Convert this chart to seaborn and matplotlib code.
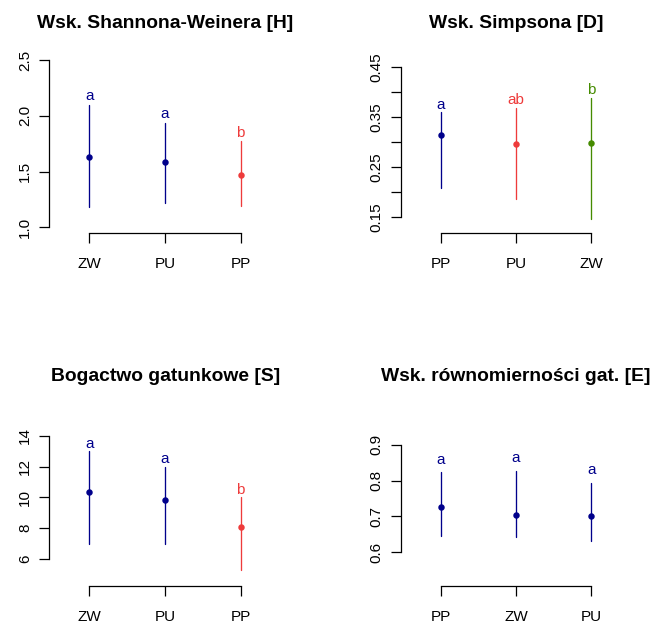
import numpy as np
import pandas as pd
import matplotlib
matplotlib.use("Agg")
import matplotlib.pyplot as plt
import seaborn as sns

# ---------------- data ----------------
H_groups = ["ZW", "PU", "PP"]
H_mid = [1.63, 1.585, 1.465]
H_low = [1.185, 1.22, 1.195]
H_high = [2.10, 1.935, 1.77]
H_letters = ["a", "a", "b"]
H_colors = ["#00008B", "#00008B", "#EE3B3B"]

D_groups = ["PP", "PU", "ZW"]
D_mid = [0.313, 0.295, 0.298]
D_low = [0.207, 0.185, 0.146]
D_high = [0.360, 0.368, 0.388]
D_letters = ["a", "ab", "b"]
D_colors = ["#00008B", "#EE3B3B", "#458B00"]

S_groups = ["ZW", "PU", "PP"]
S_mid = [10.37, 9.80, 8.10]
S_low = [7.0, 7.0, 5.26]
S_high = [13.0, 12.0, 10.0]
S_letters = ["a", "a", "b"]
S_colors = ["#00008B", "#00008B", "#EE3B3B"]

E_groups = ["PP", "ZW", "PU"]
E_mid = [0.725, 0.704, 0.701]
E_low = [0.646, 0.642, 0.632]
E_high = [0.823, 0.827, 0.793]
E_letters = ["a", "a", "a"]
E_colors = ["#00008B", "#00008B", "#00008B"]

H_title = "Wsk. Shannona-Weinera [H]"
D_title = "Wsk. Simpsona [D]"
S_title = "Bogactwo gatunkowe [S]"
E_title = "Wsk. równomierności gat. [E]"

H_ticks = [1.0, 1.5, 2.0, 2.5]
H_ticklabels = ["1.0", "1.5", "2.0", "2.5"]
D_ticks = [0.15, 0.20, 0.25, 0.30, 0.35, 0.40, 0.45]
D_ticklabels = ["0.15", "", "0.25", "", "0.35", "", "0.45"]
S_ticks = [6, 8, 10, 12, 14]
S_ticklabels = ["6", "8", "10", "12", "14"]
E_ticks = [0.6, 0.7, 0.8, 0.9]
E_ticklabels = ["0.6", "0.7", "0.8", "0.9"]

# ---------------- style ----------------
sns.set_style("ticks")
plt.rcParams["font.family"] = ["Liberation Sans", "DejaVu Sans"]

W, Hh = 654, 626
fig = plt.figure(figsize=(W / 100, Hh / 100), dpi=100)
fig.patch.set_facecolor("white")


def px_axes(left, top, right, bottom):
    return fig.add_axes([left / W, 1 - bottom / Hh, (right - left) / W, (bottom - top) / Hh])


def panel(box, ylim, groups, mid, low, high, letters, colors, ticks, ticklabels,
          title, title_xy, letter_off):
    ax = px_axes(*box)
    df = pd.DataFrame({
        "group": np.repeat(groups, 3),
        "value": np.column_stack([low, mid, high]).ravel(),
    })
    pal = dict(zip(groups, colors))
    sns.pointplot(data=df, x="group", y="value", hue="group", order=groups,
                  hue_order=groups, palette=pal, estimator="median",
                  errorbar=("pi", 100), linestyle="none", markers="o",
                  markersize=2.6, err_kws={"linewidth": 0.95}, legend=False,
                  ax=ax)
    for i, (g, hi, lt, c) in enumerate(zip(groups, high, letters, colors)):
        ax.annotate(lt, xy=(i, hi), xytext=(0, letter_off * 0.72),
                    textcoords="offset points", ha="center", va="center",
                    color=c, fontsize=11)
    ax.set_xlim(-0.53, len(groups) - 1 + 0.53)
    ax.set_ylim(*ylim)
    ax.set_yticks(ticks)
    ax.set_yticklabels(ticklabels, rotation=90, va="center")
    ax.set_xticks(range(len(groups)))
    ax.set_xticklabels(groups)
    ax.set_xlabel("")
    ax.set_ylabel("")
    for s in ["top", "right"]:
        ax.spines[s].set_visible(False)
    ax.spines["left"].set_bounds(ticks[0], ticks[-1])
    ax.spines["bottom"].set_bounds(0, len(groups) - 1)
    for s in ["left", "bottom"]:
        ax.spines[s].set_linewidth(0.9)
        ax.spines[s].set_color("black")
    ax.tick_params(axis="both", length=7.2, width=0.9, color="black",
                   labelsize=11, labelcolor="black")
    ax.tick_params(axis="y", pad=5)
    ax.tick_params(axis="x", pad=10.2)
    ax.set_facecolor("none")
    fig.text(title_xy[0] / W, 1 - title_xy[1] / Hh, title, ha="center",
             va="baseline", fontsize=13.9, fontweight="bold", color="black")
    return ax


panel((49.2, 54.0, 280.8, 233.3), (0.946, 2.554), H_groups, H_mid, H_low, H_high,
      H_letters, H_colors, H_ticks, H_ticklabels, H_title, (165.3, 28.3), 8.8)
panel((400.8, 60.7, 631.2, 233.3), (0.1175, 0.462), D_groups, D_mid, D_low, D_high,
      D_letters, D_colors, D_ticks, D_ticklabels, D_title, (516.0, 28.3), 7.3)
panel((49.2, 429.7, 280.8, 585.7), (4.267, 14.39), S_groups, S_mid, S_low, S_high,
      S_letters, S_colors, S_ticks, S_ticklabels, S_title, (165.3, 381.3), 7.3)
panel((400.8, 438.7, 631.2, 585.7), (0.5069, 0.9167), E_groups, E_mid, E_low, E_high,
      E_letters, E_colors, E_ticks, E_ticklabels, E_title, (516.0, 381.3), 12.8)

fig.savefig("out.png", dpi=100, facecolor="white")
